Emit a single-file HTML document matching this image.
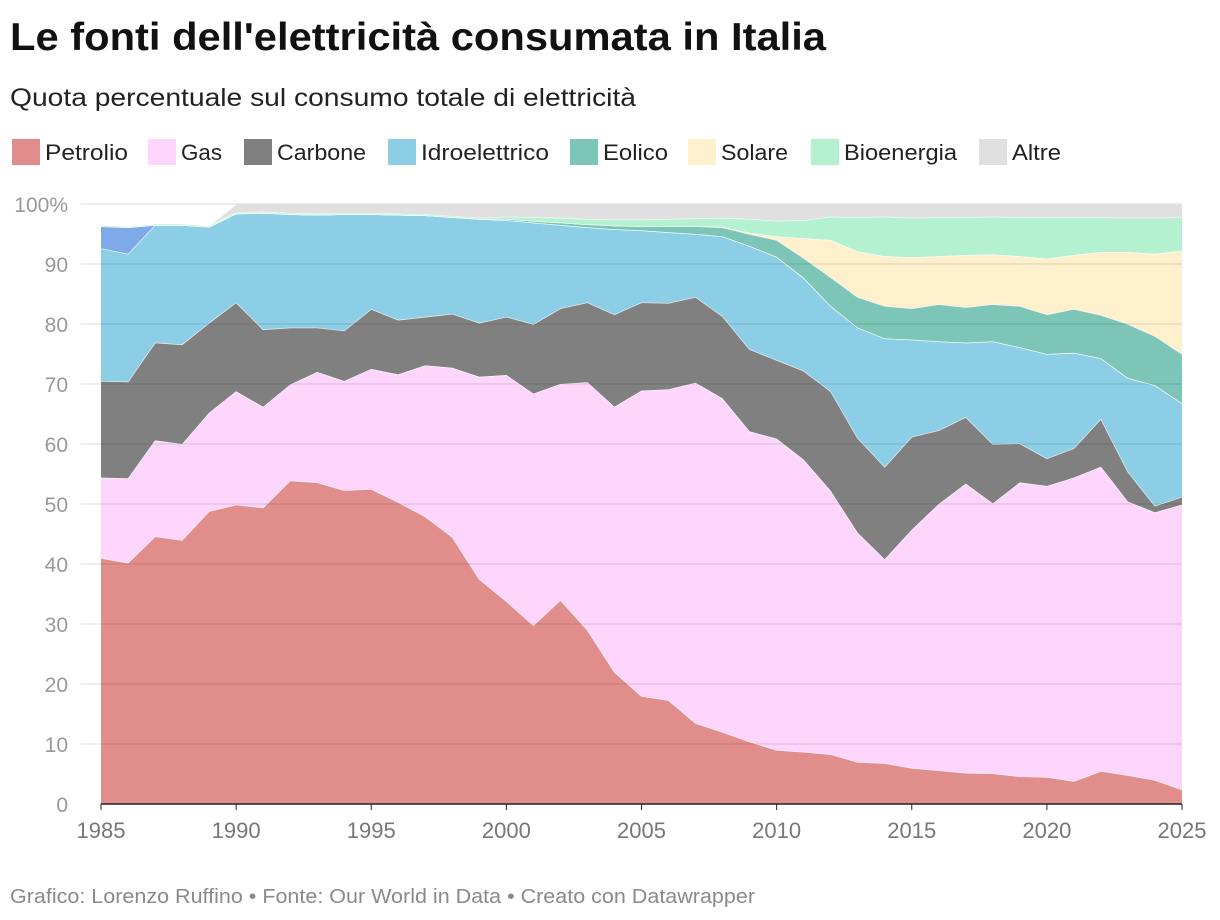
<!DOCTYPE html>
<html><head><meta charset="utf-8"><style>
body{margin:0;background:#fff;font-family:"Liberation Sans",sans-serif}
svg{display:block}
</style></head><body>
<svg id="chart" width="1220" height="920" xmlns="http://www.w3.org/2000/svg">
<text x="10" y="50" font-size="39" font-weight="bold" fill="#111" textLength="816" lengthAdjust="spacingAndGlyphs">Le fonti dell'elettricità consumata in Italia</text>
<text x="10" y="106" font-size="25" fill="#222" textLength="626" lengthAdjust="spacingAndGlyphs">Quota percentuale sul consumo totale di elettricità</text>
<g id="legend"></g>
<g id="areas"></g>
<g id="grid"></g>
<g id="axes"></g>
<text x="10" y="903" font-size="20" fill="#8a8a8a" textLength="745" lengthAdjust="spacingAndGlyphs">Grafico: Lorenzo Ruffino • Fonte: Our World in Data • Creato con Datawrapper</text>
</svg>
<script>
const years = Array.from({length:41},(_,i)=>1985+i);
const petrolio = [41,40.2,44.6,44,48.8,49.9,49.4,53.9,53.6,52.3,52.5,50.3,47.9,44.5,37.5,33.8,29.8,34,29,22,18,17.3,13.5,12,10.4,9,8.7,8.3,7,6.8,6,5.6,5.2,5.1,4.6,4.5,3.8,5.5,4.8,4,2.4];
const gas = [13.4,14.1,16,16,16.4,18.9,16.8,16,18.4,18.2,20,21.3,25.2,28.2,33.7,37.7,38.6,36,41.3,44.2,50.9,51.8,56.7,55.6,51.7,51.9,48.7,43.9,38.2,34,39.7,44.4,48.2,45,49,48.5,50.6,50.7,45.6,44.6,47.5];
const carbone = [16.1,16.1,16.3,16.6,15,14.8,12.9,9.5,7.4,8.4,10,9.1,8.1,9,9,9.7,11.6,12.6,13.3,15.4,14.7,14.4,14.3,13.7,13.7,13.1,14.8,16.6,15.8,15.4,15.5,12.3,11.1,9.9,6.5,4.6,4.9,8,5,1.1,1.3];
const idro = [22.1,21.3,19.6,19.9,16,14.8,19.4,18.9,18.8,19.4,15.8,17.5,16.9,16.1,17.3,16.1,16.9,13.9,12.5,14.2,12,11.8,10.5,13.3,17.2,17.2,15.5,14.2,18.4,21.4,16.2,14.8,12.4,17.1,16,17.4,15.9,10.1,15.6,20.1,15.6];
const eolico = [0,0,0,0,0,0,0,0,0,0,0,0,0,0,0,0.2,0.3,0.4,0.5,0.6,0.7,1,1.3,1.5,2,2.8,3.3,4.8,5.1,5.4,5.2,6.2,5.9,6.2,6.9,6.6,7.3,7.2,9,8.2,8.2];
const solare = [0,0,0,0,0,0,0,0,0,0,0,0,0,0,0,0,0,0,0,0,0,0,0,0.1,0.2,0.6,3.3,6.2,7.6,8.3,8.5,8,8.7,8.3,8.3,9.3,9,10.5,12,13.7,17.2];
const bioenergia = [0.2,0.2,0.2,0.2,0.2,0.2,0.2,0.2,0.2,0.2,0.2,0.2,0.2,0.2,0.2,0.4,0.6,0.8,0.9,1,1.1,1.2,1.3,1.5,2.3,2.6,3,3.9,5.7,6.6,6.6,6.5,6.3,6.3,6.5,6.9,6.3,5.8,5.7,6,5.6];
const nucleare = [3.7,4.4,0,0,0,0,0,0,0,0,0,0,0,0,0,0,0,0,0,0,0,0,0,0,0,0,0,0,0,0,0,0,0,0,0,0,0,0,0,0,0];
const altre = [0,0,0,0,0,1.4,1.3,1.5,1.6,1.5,1.5,1.6,1.7,2,2.3,2.1,2.2,2.3,2.5,2.6,2.6,2.5,2.4,2.3,2.5,2.8,2.7,2.1,2.2,2.1,2.3,2.2,2.2,2.1,2.2,2.2,2.2,2.2,2.3,2.3,2.2];
const yTicks = [0,10,20,30,40,50,60,70,80,90,100];
const xTicks = [1985,1990,1995,2000,2005,2010,2015,2020,2025];

const series = [
 {name:'petrolio',label:'Petrolio',vals:petrolio,color:'#e18d8c',legend:true},
 {name:'gas',label:'Gas',vals:gas,color:'#fdd5fd',legend:true},
 {name:'carbone',label:'Carbone',vals:carbone,color:'#808080',legend:true},
 {name:'idroelettrico',label:'Idroelettrico',vals:idro,color:'#8bcee6',legend:true},
 {name:'nucleare',label:'Nucleare',vals:nucleare,color:'#7faae9',legend:false},
 {name:'eolico',label:'Eolico',vals:eolico,color:'#7dc6b7',legend:true},
 {name:'solare',label:'Solare',vals:solare,color:'#fef0cd',legend:true},
 {name:'bioenergia',label:'Bioenergia',vals:bioenergia,color:'#b3f1d0',legend:true},
 {name:'altre',label:'Altre',vals:altre,color:'#e0e0e0',legend:true}
];
const X0=101,X1=1182,Y0=804,Y1=204;
const xs = y => X0 + (y-1985)/(2025-1985)*(X1-X0);
const ys = v => Y0 - v/100*(Y0-Y1);
const NS='http://www.w3.org/2000/svg';
function mk(tag,attrs,parent){const e=document.createElementNS(NS,tag);for(const k in attrs)e.setAttribute(k,attrs[k]);parent.appendChild(e);return e;}

const areas=document.getElementById('areas');
let base=years.map(()=>0);
series.forEach(s=>{
  const top=base.map((b,i)=>b+s.vals[i]);
  let d='M'+years.map((y,i)=>xs(y).toFixed(2)+','+ys(top[i]).toFixed(2)).join('L');
  for(let i=years.length-1;i>=0;i--) d+='L'+xs(years[i]).toFixed(2)+','+ys(base[i]).toFixed(2);
  d+='Z';
  const p=mk('path',{d:d,fill:s.color,stroke:'none'},areas);
  
  
  const l=mk('path',{d:'M'+years.map((y,i)=>xs(y).toFixed(2)+','+ys(top[i]).toFixed(2)).join('L'),fill:'none',stroke:'#fff','stroke-width':1.3,'stroke-opacity':0.85},areas);
  
  
  base=top;
});

const grid=document.getElementById('grid');
const axes=document.getElementById('axes');
yTicks.forEach(t=>{
  if(t>0){const g=mk('line',{x1:81,x2:X1,y1:ys(t),y2:ys(t),stroke:'#000','stroke-opacity':0.09,'stroke-width':1.5},grid);
  
  }
  const tx=mk('text',{x:68,y:ys(t)+8,'font-size':21,fill:'#999','text-anchor':'end'},axes);
  tx.textContent=t===100?'100%':String(t);
  
  
});
const ax=mk('line',{x1:X0,x2:X1,y1:Y0,y2:Y0,stroke:'#222','stroke-width':1.5},axes);


xTicks.forEach(t=>{
  const tk=mk('line',{x1:xs(t),x2:xs(t),y1:Y0,y2:Y0+6,stroke:'#222','stroke-width':1},axes);
  
  
  const tx=mk('text',{x:xs(t),y:838,'font-size':22,fill:'#777','text-anchor':'middle'},axes);
  tx.textContent=String(t);
  
  
});

const legend=document.getElementById('legend');
const lx=[12,148,244,388,570,688,811,979];
const lw=[83,41,89,128,65,67,113,49];
series.filter(s=>s.legend).forEach((s,i)=>{
  const g=mk('g',{},legend);
  
  
  mk('rect',{x:lx[i],y:139,width:28,height:26,fill:s.color},g);
  const t=mk('text',{x:lx[i]+33,y:160,'font-size':22,fill:'#222',textLength:lw[i],lengthAdjust:'spacingAndGlyphs'},g);
  t.textContent=s.label;
});
</script>
</body></html>
